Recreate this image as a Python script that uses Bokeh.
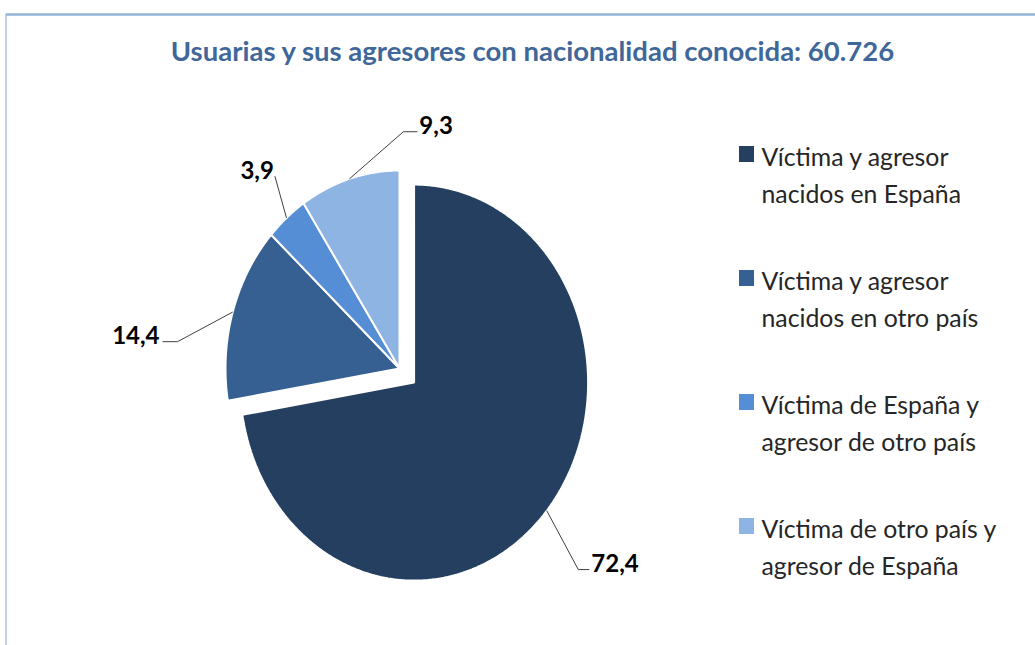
import math
from bokeh.plotting import figure
from bokeh.models import Range1d
from bokeh.core.properties import value
from bokeh.embed import file_html
from bokeh.resources import INLINE

# ---------------- data ----------------
title = "Usuarias y sus agresores con nacionalidad conocida:  60.726"
categories = [
    "Víctima y agresor\nnacidos en España",
    "Víctima y agresor\nnacidos en otro país",
    "Víctima de España y\nagresor de otro país",
    "Víctima de otro país y\nagresor de España",
]
values = [72.4, 14.4, 3.9, 9.3]
value_labels = ["72,4", "14,4", "3,9", "9,3"]

# ---------------- style / layout ----------------
colors = ["#253F60", "#366092", "#558ED5", "#8EB4E3"]
explode = [0.11, 0.0, 0.0, 0.0]
CX, CY = 399.0, 368.0        # pie centre (page px)
RX, RY = 174.0, 198.0        # pie radii (page px)
label_r = [1.335, 1.283, 1.207, 1.196]
label_shift = [4.7, -10.5, 4.1, 17.8]   # degrees
tail = [11, -15, 0, 14]
FONT = value("Lato")
TDY = -7.5                   # text baseline correction

W, H = 1035, 645
p = figure(width=W, height=H, x_range=Range1d(0, W), y_range=Range1d(H, 0),
           output_backend="svg", toolbar_location=None, min_border=0,
           x_axis_location=None, y_axis_location=None)
p.grid.visible = False
p.outline_line_color = None
p.background_fill_color = "white"
p.border_fill_color = "white"

# chart border (top and left edges visible)
p.line(x=[5, W], y=[14, 14], line_color="#95B3D7", line_width=2.5)
p.line(x=[5.5, 5.5], y=[14, H], line_color="#A9C2E2", line_width=1.5)

def pt(cx, cy, ang_deg, r=1.0):
    a = math.radians(ang_deg)
    return cx + RX * r * math.sin(a), cy - RY * r * math.cos(a)

total = sum(values)
start = 0.0
xs, ys, mids, centers = [], [], [], []
for v, e in zip(values, explode):
    span = v / total * 360.0
    mid = start + span / 2
    ox, oy = pt(0, 0, mid, e)
    cx, cy = CX + ox, CY + oy
    n = max(int(span * 2), 4)
    px, py = [cx], [cy]
    for i in range(n + 1):
        x, y = pt(cx, cy, start + span * i / n)
        px.append(x); py.append(y)
    xs.append(px); ys.append(py)
    mids.append(mid); centers.append((cx, cy))
    start += span

p.patches(xs=xs, ys=ys, fill_color=colors, line_color="white", line_width=2)

# data labels with leader lines
for i, lab in enumerate(value_labels):
    cx, cy = centers[i]
    x0, y0 = pt(cx, cy, mids[i], 1.0)
    x1, y1 = pt(cx, cy, mids[i] + label_shift[i], label_r[i])
    lx = [x0, x1]; ly = [y0, y1]
    if tail[i]:
        lx.append(x1 + tail[i]); ly.append(y1)
    p.line(x=lx, y=ly, line_color="#404040", line_width=1)
    if tail[i] > 0:
        tx, align = x1 + tail[i] + 2, "left"
    elif tail[i] < 0:
        tx, align = x1 + tail[i] - 3, "right"
    else:
        tx, align = x1 - 1, "right"
    p.text(x=[tx], y=[y1 + 1 + TDY], text=[lab], text_font=FONT,
           text_font_size="24px", text_font_style="bold", text_align=align,
           text_baseline="alphabetic", text_color="black")

# title
p.text(x=[536], y=[57 + TDY], text=[title], text_font=FONT, text_font_size="27.5px",
       text_font_style="bold", text_align="center", text_baseline="alphabetic",
       text_color="#40679A")

# legend
LX, LY0, LSTEP, LLINE = 746, 153.5, 124, 37
for i, cat in enumerate(categories):
    yc = LY0 + i * LSTEP
    p.rect(x=[LX], y=[yc], width=15, height=16, fill_color=colors[i], line_color=None)
    for j, line in enumerate(cat.split("\n")):
        p.text(x=[LX + 15], y=[yc + 9.5 + j * LLINE + TDY], text=[line], text_font=FONT,
               text_font_size="24.8px", text_align="left", text_baseline="alphabetic",
               text_color="#262626")

open("out.html", "w").write(file_html(p, INLINE))
